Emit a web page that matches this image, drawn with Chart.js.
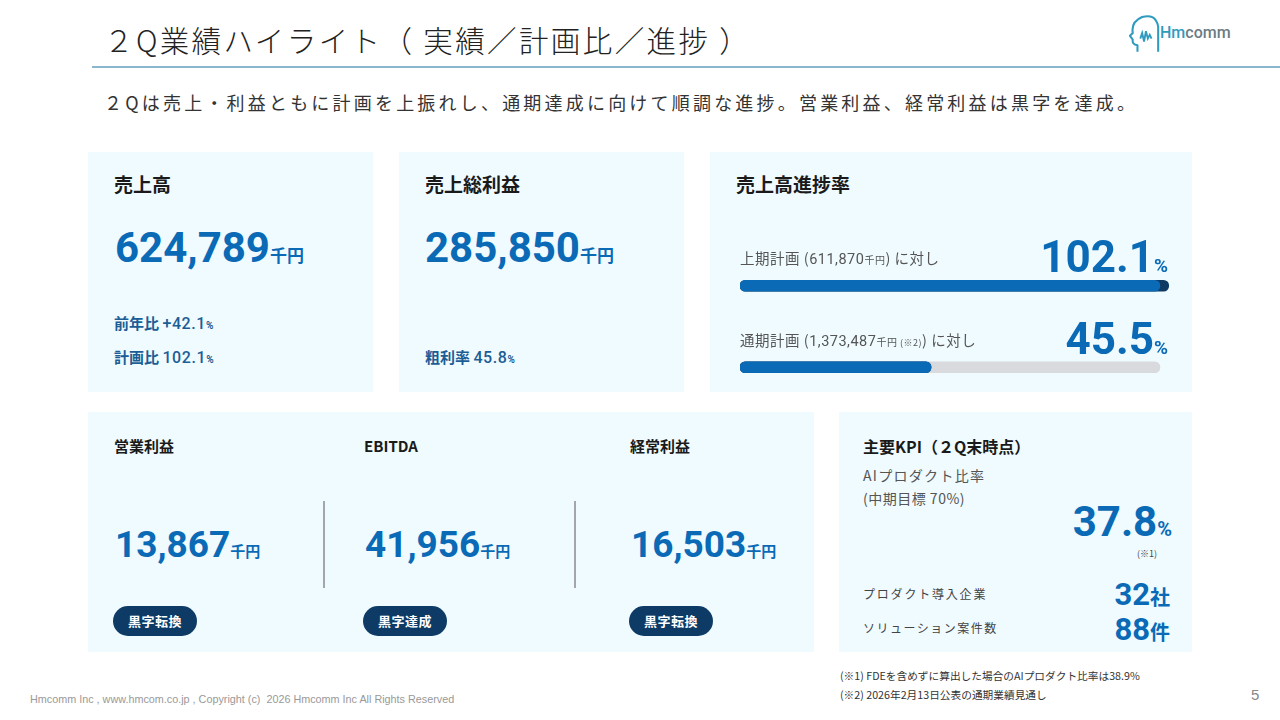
<!DOCTYPE html>
<html lang="ja">
<head>
<meta charset="utf-8">
<title>２Q業績ハイライト</title>
<script src="https://cdn.jsdelivr.net/npm/chart.js@4.4.1/dist/chart.umd.min.js"></script>
<style>
    html, body { margin: 0; padding: 0; background: #fff; }
    #slide {
        position: relative;
        width: 1280px;
        height: 720px;
        overflow: hidden;
        font-family: "Noto Sans CJK JP", "Noto Sans", sans-serif;
        color: #222;
    }
    .abs { position: absolute; white-space: nowrap; line-height: 1; }
    .card { position: absolute; background: #effbfe; }
    .head { font-size: 19px; font-weight: 700; color: #1a1a1a; }
    .head-s { font-size: 15px; font-weight: 700; color: #1a1a1a; }
    .num { font-family: Roboto, "Noto Sans", sans-serif; font-weight: 700; color: #0a6ab6; }
    .unit { font-family: "Noto Sans CJK JP", sans-serif; font-weight: 700; color: #0a6ab6; }
    .sub { font-size: 15px; font-weight: 700; color: #1c5d96; }
    .sub .n { font-family: Roboto, sans-serif; font-weight: 500; font-size: 16px; letter-spacing: 0.6px; }
    .sub .pc { font-size: 10px; font-family: Roboto, sans-serif; }
    .label { font-size: 14.5px; color: #555; letter-spacing: 0.5px; }
    .badge {
        position: absolute;
        height: 30px;
        width: 84px;
        border-radius: 15px;
        background: #0d3b66;
        color: #fff;
        font-size: 13px;
        font-weight: 700;
        line-height: 30px;
        text-align: center;
        letter-spacing: 0.5px;
    }
    .divider { position: absolute; width: 2px; background: #a3a7ab; }
</style>
</head>
<body>
<div id="slide">
    <!-- header -->
    <div class="abs" style="left:104px; top:25px; font-size:29.5px; font-weight:300; letter-spacing:2.4px; color:#222;">２Q業績ハイライト（ 実績／計画比／進捗 ）</div>
    <div style="position:absolute; left:92px; top:66px; width:1188px; height:2px; background:#8bb6cf;"></div>
    <svg style="position:absolute; left:1129px; top:12px;" width="32" height="42" viewBox="0 0 34 42">
        <path d="M9 41 L9 34 Q3 33 4 28 L1 24 L4 21 Q2 9 14 4 Q28 0 31 14 L31 41" fill="none" stroke="#2f9bbf" stroke-width="2.2" stroke-linejoin="round"/>
        <path d="M12 27 L14 21 L16 30 L18 19 L20 27 L22 23 L24 27" fill="none" stroke="#2f9bbf" stroke-width="2"/>
    </svg>
    <div class="abs" style="left:1160px; top:25px; font-family:Roboto, sans-serif; font-size:16px; font-weight:500;"><span style="color:#2f9bbf;">Hm</span><span style="color:#6d7c84;">comm</span></div>

    <div class="abs" style="left:104px; top:93px; font-size:18px; letter-spacing:3.2px; color:#333;">２Qは売上・利益ともに計画を上振れし、通期達成に向けて順調な進捗。営業利益、経常利益は黒字を達成。</div>

    <!-- 売上高 -->
    <div class="card" style="left:88px; top:152px; width:285px; height:240px;"></div>
    <div class="abs head" style="left:114px; top:174px;">売上高</div>
    <div class="abs" style="left:115px; top:227px;"><span class="num" style="font-size:42px;">624,789</span><span class="unit" style="font-size:17px;">千円</span></div>
    <div class="abs sub" style="left:114px; top:315px;">前年比 <span class="n">+42.1</span><span class="pc">%</span></div>
    <div class="abs sub" style="left:114px; top:349px;">計画比 <span class="n">102.1</span><span class="pc">%</span></div>

    <!-- 売上総利益 -->
    <div class="card" style="left:399px; top:152px; width:285px; height:240px;"></div>
    <div class="abs head" style="left:425px; top:174px;">売上総利益</div>
    <div class="abs" style="left:425px; top:227px;"><span class="num" style="font-size:42px;">285,850</span><span class="unit" style="font-size:17px;">千円</span></div>
    <div class="abs sub" style="left:425px; top:349px;">粗利率 <span class="n">45.8</span><span class="pc">%</span></div>

    <!-- 売上高進捗率 -->
    <div class="card" style="left:710px; top:152px; width:482px; height:240px;"></div>
    <div class="abs head" style="left:736px; top:174px;">売上高進捗率</div>
    <div style="position:absolute; left:740px; top:245px; width:430px; height:163px;">
        <canvas id="progressChart"></canvas>
    </div>
    <div id="progressText"></div>

    <!-- 営業利益 / EBITDA / 経常利益 -->
    <div class="card" style="left:88px; top:412px; width:726px; height:240px;"></div>
    <div id="profitBlock"></div>
    <div class="divider" style="left:323px; top:501px; height:87px;"></div>
    <div class="divider" style="left:574px; top:501px; height:87px;"></div>

    <!-- 主要KPI -->
    <div class="card" style="left:839px; top:412px; width:353px; height:240px;"></div>
    <div class="abs" style="left:863px; top:438px; font-size:16px; font-weight:700; color:#1a1a1a;">主要KPI（２Q末時点）</div>
    <div class="abs label" style="left:863px; top:468px; font-size:14px; letter-spacing:1.3px;">AIプロダクト比率</div>
    <div class="abs label" style="left:863px; top:491px; font-size:14px;">(中期目標 70%)</div>
    <div class="abs" style="right:108px; top:501px;"><span class="num" style="font-size:42px;">37.8</span><span class="num" style="font-size:20px;">%</span></div>
    <div class="abs" style="left:1137px; top:549px; font-size:9px; color:#444;">(※1)</div>
    <div class="abs label" style="left:863px; top:588px; font-size:12px; letter-spacing:1.8px; color:#444;">プロダクト導入企業</div>
    <div class="abs" style="right:110px; top:579px;"><span class="num" style="font-size:31px;">32</span><span class="unit" style="font-size:20px;">社</span></div>
    <div class="abs label" style="left:863px; top:622px; font-size:12px; letter-spacing:1.5px; color:#444;">ソリューション案件数</div>
    <div class="abs" style="right:110px; top:614px;"><span class="num" style="font-size:31px;">88</span><span class="unit" style="font-size:20px;">件</span></div>

    <!-- footnotes / footer -->
    <div class="abs" style="left:840px; top:671px; font-size:10.7px; color:#333;">(※1) FDEを含めずに算出した場合のAIプロダクト比率は38.9%</div>
    <div class="abs" style="left:840px; top:690px; font-size:10.7px; color:#333;">(※2) 2026年2月13日公表の通期業績見通し</div>
    <div class="abs" style="left:30px; top:694px; font-family:'Liberation Sans', Arial, sans-serif; font-size:10.8px; color:#999;">Hmcomm Inc , www.hmcom.co.jp , Copyright (c)&nbsp; 2026 Hmcomm Inc All Rights Reserved</div>
    <div class="abs" style="left:1251px; top:687px; font-family:'Liberation Sans', sans-serif; font-size:15px; color:#888;">5</div>
</div>

<script>
// 売上高進捗率 (plan vs actual)
const progressCategories = ['上期計画', '通期計画'];
const planAmounts = ['611,870', '1,373,487'];
const planNotes = ['', '(※2)'];
const progressRates = [102.1, 45.5];
const withinPlanRates = [100, 45.5];
const planRates = [100, 100];

// profit row
const profitLabels = ['営業利益', 'EBITDA', '経常利益'];
const profitValues = [13867, 41956, 16503];
const profitBadges = ['黒字転換', '黒字達成', '黒字転換'];

// progress labels + big rates
function buildProgressText() {
    const holder = document.getElementById('progressText');
    const rowTop = [251, 333];
    let html = '';
    progressCategories.forEach((cat, i) => {
        const note = planNotes[i] ? '<span style="font-size:9px;"> ' + planNotes[i] + '</span>' : '';
        html += '<div class="abs label" style="left:740px; top:' + rowTop[i] + 'px;">' + cat +
            ' (<span style="font-family:Roboto,sans-serif;">' + planAmounts[i] + '</span>' +
            '<span style="font-size:10px;">千円</span>' + note + ') に対し</div>';
        html += '<div class="abs" style="right:112px; top:' + (rowTop[i] - 16) + 'px;">' +
            '<span class="num" style="font-size:44px;">' + progressRates[i].toFixed(1) + '</span>' +
            '<span class="num" style="font-size:19px;">%</span></div>';
    });
    holder.innerHTML = html;
}

// profit cards
function buildProfitBlock() {
    const holder = document.getElementById('profitBlock');
    const colLeft = [114, 364, 630];
    let html = '';
    profitLabels.forEach((label, i) => {
        html += '<div class="abs head-s" style="left:' + colLeft[i] + 'px; top:438px;">' + label + '</div>';
        html += '<div class="abs" style="left:' + (colLeft[i] + 1) + 'px; top:526px;">' +
            '<span class="num" style="font-size:37px;">' + profitValues[i].toLocaleString('en-US') + '</span>' +
            '<span class="unit" style="font-size:15px;">千円</span></div>';
        html += '<div class="badge" style="left:' + (colLeft[i] - 1) + 'px; top:606px;">' + profitBadges[i] + '</div>';
    });
    holder.innerHTML = html;
}

// progress bars
function createProgressChart() {
    const ctx = document.getElementById('progressChart');
    if (!ctx) return;

    new Chart(ctx, {
        type: 'bar',
        data: {
            labels: progressCategories,
            datasets: [{
                label: '計画内',
                data: withinPlanRates,
                backgroundColor: '#0a6ab6'
            }, {
                label: '実績',
                data: progressRates,
                backgroundColor: '#0f3a63'
            }, {
                label: '計画',
                data: planRates,
                backgroundColor: '#d8dadd'
            }]
        },
        options: {
            indexAxis: 'y',
            responsive: true,
            maintainAspectRatio: false,
            animation: false,
            layout: { padding: 0 },
            datasets: {
                bar: {
                    grouped: false,
                    barThickness: 11,
                    borderRadius: 6,
                    borderSkipped: false
                }
            },
            scales: {
                x: { min: 0, max: 102.4, display: false },
                y: { display: false }
            },
            plugins: {
                legend: { display: false },
                tooltip: { enabled: false }
            }
        }
    });
}

buildProgressText();
buildProfitBlock();
createProgressChart();
</script>
</body>
</html>
